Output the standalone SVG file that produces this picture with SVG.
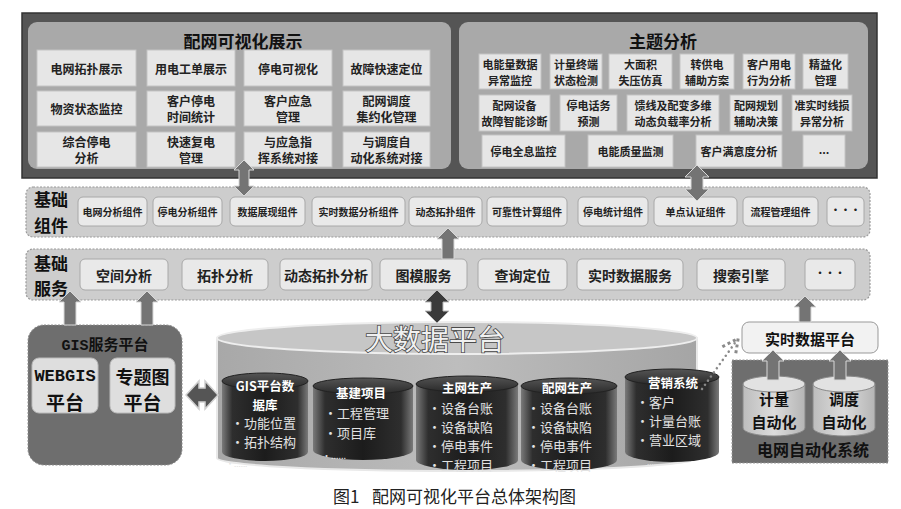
<svg xmlns="http://www.w3.org/2000/svg" width="901" height="509" viewBox="0 0 901 509">
<defs>
<style>
text{font-family:"Noto Sans CJK SC","Noto Sans",sans-serif;dominant-baseline:central;text-anchor:middle}
.box{fill:#e6e6e6;stroke:#c4c4c4;stroke-width:1}
.t12{font-size:12px;font-weight:bold;fill:#222}
.t11{font-size:11px;font-weight:bold;fill:#222}
.t10{font-size:10px;font-weight:bold;fill:#222}
.t14{font-size:14px;font-weight:bold;fill:#222}
.ttl{font-size:17px;font-weight:bold;fill:#111}
.layer{fill:#cdcdcd;stroke:#9a9a9a;stroke-width:1.2;stroke-dasharray:2 1.5}
.lbl{font-size:17px;font-weight:bold;fill:#111}
.cbox{fill:#e9e9e9;stroke:#a8a8a8;stroke-width:1}
.arr{fill:#747474;stroke:#d8d8d8;stroke-width:1}
.darr{fill:#3a3a3a;stroke:#bbb;stroke-width:1}
.ctit{font-size:12.5px;font-weight:bold;fill:#fff}
.citm{font-size:13px;fill:#e2e2e2;text-anchor:start}
.auto{font-size:15px;font-weight:bold;fill:#111}
</style>
<linearGradient id="gCyl" x1="0" y1="0" x2="1" y2="0">
<stop offset="0" stop-color="#7a7a7a"/>
<stop offset="0.12" stop-color="#2e2e2e"/>
<stop offset="0.5" stop-color="#1c1c1c"/>
<stop offset="0.88" stop-color="#2e2e2e"/>
<stop offset="1" stop-color="#7a7a7a"/>
</linearGradient>
<linearGradient id="gTop" x1="0" y1="0" x2="0" y2="1">
<stop offset="0" stop-color="#555"/>
<stop offset="1" stop-color="#2a2a2a"/>
</linearGradient>
<linearGradient id="gBig" x1="0" y1="0" x2="1" y2="0">
<stop offset="0" stop-color="#a8a8a8"/>
<stop offset="0.5" stop-color="#bdbdbd"/>
<stop offset="1" stop-color="#a5a5a5"/>
</linearGradient>
<linearGradient id="gSmall" x1="0" y1="0" x2="1" y2="0">
<stop offset="0" stop-color="#bdbdbd"/>
<stop offset="0.5" stop-color="#dcdcdc"/>
<stop offset="1" stop-color="#b5b5b5"/>
</linearGradient>
<marker id="openHead" viewBox="0 0 10 10" refX="8" refY="5" markerWidth="8" markerHeight="8" orient="auto">
<path d="M1,1 L9,5 L1,9" fill="none" stroke="#8a8a8a" stroke-width="1.5" stroke-dasharray="1.5 1.5"/>
</marker>
</defs>
<rect width="901" height="509" fill="#ffffff"/>

<g id="top-frame">
<rect x="22" y="13" width="855" height="165" fill="#555555" stroke="#333" stroke-width="1.5"/>
</g>

<g id="visual-display">
<rect x="28" y="22" width="423" height="147" rx="9" fill="#a9a9a9"/>
<text class="ttl" x="243" y="40">配网可视化展示</text>
<rect class="box" x="37" y="50" width="99" height="36"/><text class="t12" x="86.5" y="68">电网拓扑展示</text>
<rect class="box" x="147" y="50" width="88" height="36"/><text class="t12" x="191" y="68">用电工单展示</text>
<rect class="box" x="244" y="50" width="88" height="36"/><text class="t12" x="288" y="68">停电可视化</text>
<rect class="box" x="343" y="50" width="87" height="36"/><text class="t12" x="386.5" y="68">故障快速定位</text>
<rect class="box" x="37" y="91" width="99" height="35"/><text class="t12" x="86.5" y="108.5">物资状态监控</text>
<rect class="box" x="147" y="91" width="88" height="35"/><text class="t12" x="191" y="100.5">客户停电</text><text class="t12" x="191" y="116.5">时间统计</text>
<rect class="box" x="244" y="91" width="88" height="35"/><text class="t12" x="288" y="100.5">客户应急</text><text class="t12" x="288" y="116.5">管理</text>
<rect class="box" x="343" y="91" width="87" height="35"/><text class="t12" x="386.5" y="100.5">配网调度</text><text class="t12" x="386.5" y="116.5">集约化管理</text>
<rect class="box" x="37" y="132" width="99" height="35"/><text class="t12" x="86.5" y="141.5">综合停电</text><text class="t12" x="86.5" y="157.5">分析</text>
<rect class="box" x="147" y="132" width="88" height="35"/><text class="t12" x="191" y="141.5">快速复电</text><text class="t12" x="191" y="157.5">管理</text>
<rect class="box" x="244" y="132" width="88" height="35"/><text class="t12" x="288" y="141.5">与应急指</text><text class="t12" x="288" y="157.5">挥系统对接</text>
<rect class="box" x="343" y="132" width="87" height="35"/><text class="t12" x="386.5" y="141.5">与调度自</text><text class="t12" x="386.5" y="157.5">动化系统对接</text>
</g>

<g id="theme-analysis">
<rect x="459" y="22" width="409" height="147" rx="9" fill="#a9a9a9"/>
<text class="ttl" x="663" y="40">主题分析</text>
<rect class="box" x="479" y="54" width="62" height="35"/><text class="t11" x="510" y="63.5">电能量数据</text><text class="t11" x="510" y="79.5">异常监控</text>
<rect class="box" x="550" y="54" width="52" height="35"/><text class="t11" x="576" y="63.5">计量终端</text><text class="t11" x="576" y="79.5">状态检测</text>
<rect class="box" x="609" y="54" width="63" height="35"/><text class="t11" x="640.5" y="63.5">大面积</text><text class="t11" x="640.5" y="79.5">失压仿真</text>
<rect class="box" x="680" y="54" width="54" height="35"/><text class="t11" x="707" y="63.5">转供电</text><text class="t11" x="707" y="79.5">辅助方案</text>
<rect class="box" x="743" y="54" width="52" height="35"/><text class="t11" x="769" y="63.5">客户用电</text><text class="t11" x="769" y="79.5">行为分析</text>
<rect class="box" x="803" y="54" width="45" height="35"/><text class="t11" x="825.5" y="63.5">精益化</text><text class="t11" x="825.5" y="79.5">管理</text>
<rect class="box" x="479" y="95" width="71" height="36"/><text class="t11" x="514.5" y="105">配网设备</text><text class="t11" x="514.5" y="121">故障智能诊断</text>
<rect class="box" x="560" y="95" width="57" height="36"/><text class="t11" x="588.5" y="105">停电话务</text><text class="t11" x="588.5" y="121">预测</text>
<rect class="box" x="627" y="95" width="92" height="36"/><text class="t11" x="673" y="105">馈线及配变多维</text><text class="t11" x="673" y="121">动态负载率分析</text>
<rect class="box" x="730" y="95" width="52" height="36"/><text class="t11" x="756" y="105">配网规划</text><text class="t11" x="756" y="121">辅助决策</text>
<rect class="box" x="792" y="95" width="60" height="36"/><text class="t11" x="822" y="105">准实时线损</text><text class="t11" x="822" y="121">异常分析</text>
<rect class="box" x="482" y="135" width="83" height="32"/><text class="t11" x="523.5" y="151">停电全息监控</text>
<rect class="box" x="588" y="135" width="85" height="32"/><text class="t11" x="630.5" y="151">电能质量监测</text>
<rect class="box" x="696" y="135" width="86" height="32"/><text class="t11" x="739" y="151">客户满意度分析</text>
<rect class="box" x="803" y="135" width="42" height="32"/><text class="t11" x="824" y="149">...</text>
</g>

<g id="base-components">
<rect class="layer" x="26" y="187" width="844" height="50" rx="7"/>
<text class="lbl" x="51" y="198">基础</text><text class="lbl" x="51" y="224">组件</text>
<rect class="cbox" x="78" y="197" width="69" height="29" rx="5"/><text class="t10" x="112.5" y="211.5">电网分析组件</text>
<rect class="cbox" x="153" y="197" width="69" height="29" rx="5"/><text class="t10" x="187.5" y="211.5">停电分析组件</text>
<rect class="cbox" x="230" y="197" width="75" height="29" rx="5"/><text class="t10" x="267.5" y="211.5">数据展现组件</text>
<rect class="cbox" x="312" y="197" width="93" height="29" rx="5"/><text class="t10" x="358.5" y="211.5">实时数据分析组件</text>
<rect class="cbox" x="409" y="197" width="73" height="29" rx="5"/><text class="t10" x="445.5" y="211.5">动态拓扑组件</text>
<rect class="cbox" x="487" y="197" width="80" height="29" rx="5"/><text class="t10" x="527" y="211.5">可靠性计算组件</text>
<rect class="cbox" x="578" y="197" width="70" height="29" rx="5"/><text class="t10" x="613" y="211.5">停电统计组件</text>
<rect class="cbox" x="654" y="197" width="83" height="29" rx="5"/><text class="t10" x="695.5" y="211.5">单点认证组件</text>
<rect class="cbox" x="743" y="197" width="75" height="29" rx="5"/><text class="t10" x="780.5" y="211.5">流程管理组件</text>
<rect class="cbox" x="827" y="197" width="37" height="29" rx="5"/><text class="t10" x="845.5" y="209">•••</text>
</g>

<g id="base-services">
<rect class="layer" x="26" y="249" width="844" height="51" rx="7"/>
<text class="lbl" x="51" y="262">基础</text><text class="lbl" x="51" y="287">服务</text>
<rect class="cbox" x="80" y="259" width="88" height="31" rx="5"/><text class="t14" x="124" y="274.5">空间分析</text>
<rect class="cbox" x="182" y="259" width="86" height="31" rx="5"/><text class="t14" x="225" y="274.5">拓扑分析</text>
<rect class="cbox" x="280" y="259" width="92" height="31" rx="5"/><text class="t14" x="326" y="274.5">动态拓扑分析</text>
<rect class="cbox" x="380" y="259" width="87" height="31" rx="5"/><text class="t14" x="423.5" y="274.5">图模服务</text>
<rect class="cbox" x="478" y="259" width="89" height="31" rx="5"/><text class="t14" x="522.5" y="274.5">查询定位</text>
<rect class="cbox" x="577" y="259" width="106" height="31" rx="5"/><text class="t14" x="630" y="274.5">实时数据服务</text>
<rect class="cbox" x="697" y="259" width="88" height="31" rx="5"/><text class="t14" x="741" y="274.5">搜索引擎</text>
<rect class="cbox" x="805" y="259" width="50" height="31" rx="5"/><text class="t10" x="830" y="272">•••</text>
</g>

<g id="gis-service-platform">
<rect x="28" y="325" width="154" height="140" rx="16" fill="#6e6e6e" stroke="#8a8a8a" stroke-dasharray="2 1.5"/>
<text x="105" y="346" style="font-family:'Liberation Mono','Noto Sans CJK SC',monospace;font-size:15px;font-weight:bold;fill:#111">GIS服务平台</text>
<rect x="32" y="358" width="66" height="55" rx="7" fill="#dedede" stroke="#bbb"/>
<text x="65" y="376" style="font-family:'Liberation Mono',monospace;font-size:17px;font-weight:bold;fill:#111">WEBGIS</text>
<text x="65" y="401" style="font-size:19px;font-weight:bold;fill:#111">平台</text>
<rect x="110" y="358" width="65" height="55" rx="7" fill="#dedede" stroke="#bbb"/>
<text x="142.5" y="376" style="font-size:18px;font-weight:bold;fill:#111">专题图</text>
<text x="142.5" y="401" style="font-size:19px;font-weight:bold;fill:#111">平台</text>
</g>

<g id="big-data-platform">
<path d="M217,338 L217,458 A240,13 0 0 0 697,458 L697,338 Z" fill="url(#gBig)" stroke="#e8e8e8" stroke-width="2"/>
<ellipse cx="457" cy="338" rx="240" ry="16" fill="#c6c6c6" stroke="#eeeeee" stroke-width="2"/>
<text x="435" y="338" style="font-size:28px;fill:#f0f0f0;stroke:#4a4a4a;stroke-width:1.6;paint-order:stroke">大数据平台</text>
</g>

<g id="db-gis">
<path d="M222,381 L222,452 A43,9 0 0 0 308,452 L308,381 Z" fill="url(#gCyl)"/>
<ellipse cx="265" cy="381" rx="43" ry="8" fill="url(#gTop)" stroke="#222"/>
<text class="ctit" x="265" y="385">GIS平台数</text>
<text class="ctit" x="265" y="404">据库</text>
<text class="citm" x="231" y="422">•功能位置</text>
<text class="citm" x="231" y="441">•拓扑结构</text>
<text class="citm" x="226" y="463" style="font-size:8px">•......</text>
</g>

<g id="db-infra">
<path d="M313,386 L313,450 A50,10 0 0 0 413,450 L413,386 Z" fill="url(#gCyl)"/>
<ellipse cx="363" cy="386" rx="50" ry="8" fill="url(#gTop)" stroke="#222"/>
<text class="ctit" x="361" y="392">基建项目</text>
<text class="citm" x="324" y="412">•工程管理</text>
<text class="citm" x="324" y="432">•项目库</text>
<text class="citm" x="322" y="455" style="font-size:9px">•......</text>
</g>

<g id="db-main-grid">
<path d="M416,384 L416,460 A51,10 0 0 0 518,460 L518,384 Z" fill="url(#gCyl)"/>
<ellipse cx="467" cy="384" rx="51" ry="8" fill="url(#gTop)" stroke="#222"/>
<text class="ctit" x="467" y="387">主网生产</text>
<text class="citm" x="428" y="407">•设备台账</text>
<text class="citm" x="428" y="426">•设备缺陷</text>
<text class="citm" x="428" y="445">•停电事件</text>
<text class="citm" x="428" y="464">•工程项目</text>
</g>

<g id="db-dist-grid">
<path d="M521,386 L521,460 A48,10 0 0 0 617,460 L617,386 Z" fill="url(#gCyl)"/>
<ellipse cx="569" cy="386" rx="48" ry="8" fill="url(#gTop)" stroke="#222"/>
<text class="ctit" x="567" y="387">配网生产</text>
<text class="citm" x="527" y="407">•设备台账</text>
<text class="citm" x="527" y="426">•设备缺陷</text>
<text class="citm" x="527" y="445">•停电事件</text>
<text class="citm" x="527" y="464">•工程项目</text>
</g>

<g id="db-marketing">
<path d="M625,377 L625,452 A47,10 0 0 0 719,452 L719,377 Z" fill="url(#gCyl)"/>
<ellipse cx="672" cy="377" rx="47" ry="8" fill="url(#gTop)" stroke="#222"/>
<text class="ctit" x="673" y="382">营销系统</text>
<text class="citm" x="636" y="401">•客户</text>
<text class="citm" x="636" y="420">•计量台账</text>
<text class="citm" x="636" y="439">•营业区域</text>
<text class="citm" x="647" y="461" style="font-size:8px">......</text>
</g>

<g id="grid-automation">
<rect x="732" y="360" width="156" height="103" fill="#6e6e6e" stroke="#999" stroke-dasharray="2 1.5"/>
<text x="813" y="449" style="font-size:16px;font-weight:bold;fill:#111">电网自动化系统</text>
</g>

<g id="metering-automation">
<path d="M743,384 L743,428 A31,8 0 0 0 805,428 L805,384 Z" fill="url(#gSmall)" stroke="#888"/>
<ellipse cx="774" cy="384" rx="31" ry="8" fill="#e2e2e2" stroke="#888"/>
<text class="auto" x="774" y="398">计量</text>
<text class="auto" x="774" y="421">自动化</text>
</g>

<g id="dispatch-automation">
<path d="M813,384 L813,428 A31,8 0 0 0 875,428 L875,384 Z" fill="url(#gSmall)" stroke="#888"/>
<ellipse cx="844" cy="384" rx="31" ry="8" fill="#e2e2e2" stroke="#888"/>
<text class="auto" x="844" y="398">调度</text>
<text class="auto" x="844" y="421">自动化</text>
</g>

<g id="realtime-data-platform">
<rect x="742" y="322" width="136" height="31" rx="7" fill="#f2f2f2" stroke="#999"/>
<text x="810" y="338" style="font-size:15px;font-weight:bold;fill:#111">实时数据平台</text>
</g>

<g id="connectors">
<path class="arr" d="M244,160 L254,170 L249,170 L249,186 L254,186 L244,196 L234,186 L239,186 L239,170 L234,170 Z"/>
<path class="arr" d="M697,165 L709,177 L703,177 L703,189 L709,189 L697,201 L685,189 L691,189 L691,177 L685,177 Z"/>
<path class="arr" d="M448,228 L459,239 L454,239 L454,259 L442,259 L442,239 L437,239 Z"/>
<path class="arr" d="M70,291 L81,302 L76,302 L76,325 L64,325 L64,302 L59,302 Z"/>
<path class="arr" d="M147,291 L158,302 L153,302 L153,325 L141,325 L141,302 L136,302 Z"/>
<path class="arr" d="M805,296 L816,307 L811,307 L811,322 L799,322 L799,307 L794,307 Z"/>
<path class="arr" d="M773,350 L784,361 L779,361 L779,380 L767,380 L767,361 L762,361 Z"/>
<path class="arr" d="M840,350 L851,361 L846,361 L846,380 L834,380 L834,361 L829,361 Z"/>
<path class="darr" d="M437,290 L449,302 L443,302 L443,311 L449,311 L437,323 L425,311 L431,311 L431,302 L425,302 Z"/>
<path d="M186,395 L199,381 L199,388 L205,388 L205,381 L218,395 L205,409 L205,402 L199,402 L199,409 Z" fill="#555" stroke="#cfcfcf" stroke-width="1.5"/>
<path d="M702,389 L737,340" fill="none" stroke="#8a8a8a" stroke-width="2.5" stroke-dasharray="0.1 5" stroke-linecap="round" marker-end="url(#openHead)"/>
</g>

<g id="caption">
<text x="333" y="495" style="font-size:17px;fill:#222;text-anchor:start">图1</text>
<text x="372" y="495" style="font-size:17px;fill:#222;text-anchor:start">配网可视化平台总体架构图</text>
</g>
</svg>
